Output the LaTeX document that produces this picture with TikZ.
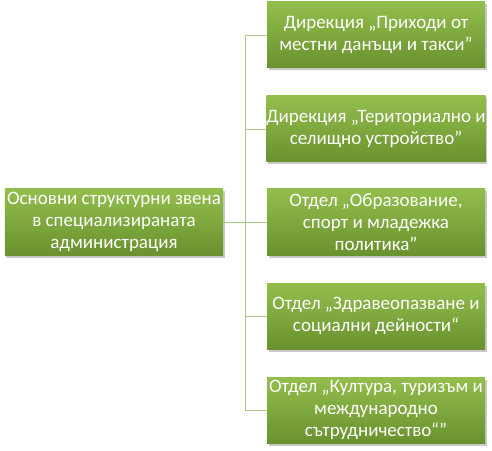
\documentclass[tikz,border=0pt]{standalone}
\usepackage{fontspec}
\setmainfont{Carlito}
\usetikzlibrary{shadows}
\definecolor{gtop}{HTML}{93BE4C}
\definecolor{gbot}{HTML}{6A912F}
\definecolor{lnk}{HTML}{AFC98A}
\tikzset{
  box/.style={rectangle, minimum width=218bp, minimum height=66bp,
    align=center, inner sep=0bp, top color=gtop, bottom color=gbot, draw=none,
    text=white, font=\fontsize{19bp}{21.7bp}\selectfont,
    drop shadow={shadow xshift=1.5bp, shadow yshift=-2.5bp, opacity=0.3, fill=black!70}},
  link/.style={draw=lnk, line width=0.9bp}
}
\begin{document}
\begin{tikzpicture}[x=1bp,y=-1bp]
\useasboundingbox (0,0) rectangle (492,451);
\node[box] (root) at (114,222) {Основни структурни звена\\в специализираната\\администрация};
\node[box] (b1) at (376,35) {Дирекция „Приходи от\\местни данъци и такси”};
\node[box] (b2) at (376,129) {Дирекция „Териториално и\\селищно устройство”};
\node[box] (b3) at (376,222) {Отдел „Образование,\\спорт и младежка\\политика”};
\node[box] (b4) at (376,316) {Отдел „Здравеопазване и\\социални дейности“};
\node[box] (b5) at (376,410) {Отдел „Култура, туризъм и\\международно\\сътрудничество“"};
\coordinate (v1) at (245,35);
\coordinate (v5) at (245,410);
\coordinate (vr) at (245,222);
\draw[link] (root.east) -- (vr);
\draw[link] (v1) -- (v5);
\foreach \b/\y in {b1/35,b2/129,b3/222,b4/316,b5/410}{
  \draw[link] (245,\y) -- (\b.west);
}
\end{tikzpicture}
\end{document}
